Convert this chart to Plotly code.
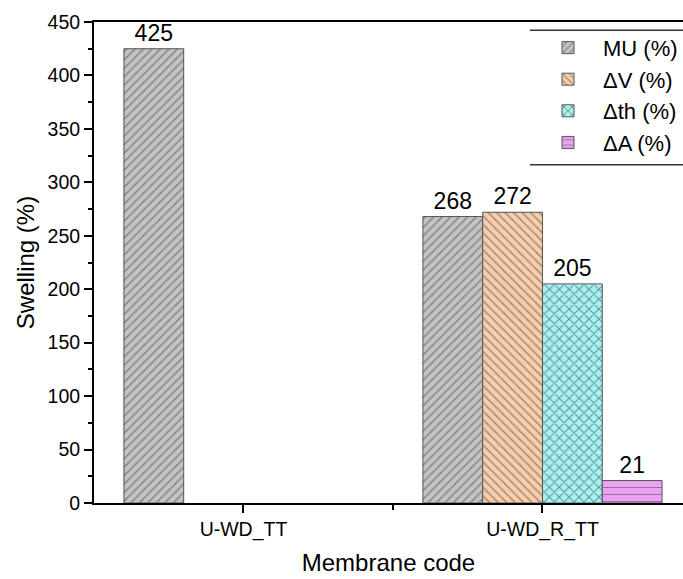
import plotly.graph_objects as go

categories = ["U-WD_TT", "U-WD_R_TT"]
cat_pos = [0, 1]
series_names = ["MU (%)", "ΔV (%)", "Δth (%)", "ΔA (%)"]
mu_vals = [425, 268]
dv_vals = [None, 272]
dth_vals = [None, 205]
da_vals = [None, 21]
y_ticks = [0, 50, 100, 150, 200, 250, 300, 350, 400, 450]

FONT = "Arial, Liberation Sans, sans-serif"

styles = [
    dict(bg="#c3c3c3", fg="#4a4a4a", shape="/", size=6, sol=0.25),
    dict(bg="#f8cdaa", fg="#4a4a4a", shape="\\", size=6, sol=0.25),
    dict(bg="#a6f3f3", fg="#333333", shape="x", size=7, sol=0.3),
    dict(bg="#e9a3f2", fg="#4a3a50", shape="-", size=7, sol=0.15),
]

fig = go.Figure()
for name, vals, st in zip(series_names, [mu_vals, dv_vals, dth_vals, da_vals], styles):
    fig.add_trace(go.Bar(
        name=name, x=cat_pos, y=vals,
        marker=dict(
            color=st["bg"],
            line=dict(color="#555555", width=1),
            pattern=dict(shape=st["shape"], size=st["size"], solidity=st["sol"],
                         fgcolor=st["fg"], bgcolor=st["bg"], fillmode="overlay"),
        ),
        texttemplate="%{y}", textposition="outside",
        textfont=dict(family=FONT, size=23, color="black"),
        cliponaxis=False,
    ))

# legend frame: top and bottom rules only (right side cropped in reference)
for yy in (0.983, 0.703):
    fig.add_shape(type="line", xref="paper", yref="paper",
                  x0=0.74, x1=1.0, y0=yy, y1=yy,
                  line=dict(color="#333333", width=1.5))

fig.update_layout(
    width=683, height=579,
    margin=dict(l=94, r=0, t=22, b=76),
    paper_bgcolor="white", plot_bgcolor="white",
    barmode="group", bargap=0.2, bargroupgap=0,
    font=dict(family=FONT, size=19, color="black"),
    legend=dict(
        x=1.0, xanchor="right", y=0.99, yanchor="top",
        bgcolor="rgba(255,255,255,0)", borderwidth=0,
        font=dict(family=FONT, size=22, color="black"),
        itemwidth=60,
    ),
    xaxis=dict(
        range=[-0.5, 1.47],
        tickvals=cat_pos, ticktext=categories,
        ticks="outside", ticklen=8, tickwidth=1.5, tickcolor="black",
        minor=dict(tickvals=[0.5], ticks="outside", ticklen=5, tickwidth=1.5, tickcolor="black"),
        showline=True, linewidth=2, linecolor="black", mirror=True,
        showgrid=False, zeroline=False,
        tickfont=dict(size=19.5),
        title=dict(text="Membrane code", font=dict(size=24), standoff=14),
    ),
    yaxis=dict(
        range=[0, 450], tickvals=y_ticks,
        ticks="outside", ticklen=8, tickwidth=1.5, tickcolor="black",
        minor=dict(dtick=25, ticks="outside", ticklen=4, tickwidth=1.5, tickcolor="black"),
        showline=True, linewidth=2, linecolor="black", mirror=False,
        showgrid=False, zeroline=False,
        tickfont=dict(size=19.5),
        title=dict(text="Swelling (%)", font=dict(size=24), standoff=6),
    ),
)

fig.write_html(
    "out.html",
    config={"displayModeBar": False},
    post_script="document.body.style.margin='0';document.body.style.overflow='hidden';",
)
